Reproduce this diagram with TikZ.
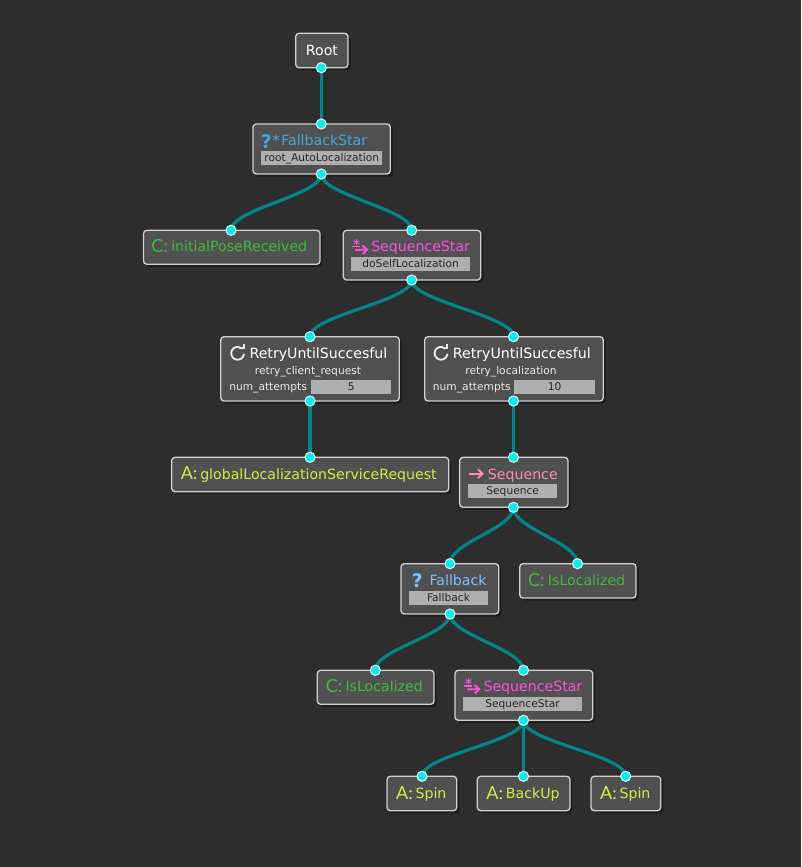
\documentclass[tikz,border=0pt]{standalone}
\usepackage{fontspec}
\setmainfont{DejaVu Sans}
\newfontfamily\iconfont{Lato}
\usetikzlibrary{fit,shadows,arrows.meta,calc}
\definecolor{bgc}{HTML}{2D2D2D}
\definecolor{boxc}{HTML}{505050}
\definecolor{edgec}{HTML}{008888}
\definecolor{fieldc}{HTML}{AFAFAF}
\definecolor{portc}{HTML}{00F0F0}
\definecolor{bluec}{HTML}{44A8E0}
\definecolor{lblue}{HTML}{77C4FF}
\definecolor{magc}{HTML}{FF50E0}
\definecolor{pinkc}{HTML}{FF8DB0}
\definecolor{greenc}{HTML}{3FBB3F}
\definecolor{yelc}{HTML}{CFF044}
\pgfdeclarelayer{backdrop}
\pgfdeclarelayer{edges}
\pgfsetlayers{backdrop,edges,main}
\def\u{0.75pt}
\tikzset{
  x=0.75pt,y=-0.75pt,
  box/.style={draw=white!82!black,line width=1pt,fill=boxc,rounded corners=2.5pt,inner sep=0pt,outer sep=0pt,
    drop shadow={shadow xshift=2pt,shadow yshift=-2pt,fill=black,opacity=0.35}},
  port/.style={circle,draw=white!92!black,fill=portc,line width=0.8pt,minimum size=7.6pt,inner sep=0pt,outer sep=0pt},
  edgeline/.style={draw=edgec,line width=2.4pt},
  curved/.style={edgeline,out=-90,in=90,distance=16pt},
  title/.style={anchor=base west,inner sep=0pt,font=\fontsize{10.6pt}{12pt}\selectfont},
  sub/.style={anchor=base,inner sep=0pt,text=white!92!black,font=\fontsize{8pt}{10pt}\selectfont},
  subl/.style={sub,anchor=base west},
  field/.style={fill=fieldc,text=black!85,inner sep=0pt,minimum height=14*\u,text height=7.5pt,text depth=2.3pt,font=\fontsize{8pt}{10pt}\selectfont},
  icon/.style={anchor=base west,inner sep=0pt,font=\iconfont\fontsize{13.5pt}{16pt}\selectfont},
  qmark/.style={anchor=base west,inner sep=0pt,font=\bfseries\fontsize{14pt}{16pt}\selectfont},
  star/.style={anchor=base,inner sep=0pt,font=\fontsize{12pt}{12pt}\selectfont},
  smallstar/.style={anchor=base,inner sep=0pt,font=\bfseries\fontsize{10pt}{12pt}\selectfont},
  arr/.style={line width=1.4pt,-{Straight Barb[length=3.5pt,width=6.5pt]}},
  stroke/.style={line width=1.4pt},
  iconline/.style={white!92!black,line width=1.4pt},
}
\newcommand{\bx}[5]{\node[box,fit={(#2,#3)(#4,#5)}] (#1) {};}
\newcommand{\retryicon}[2]{%
  \begin{scope}[shift={(#1,#2)},y=0.75pt]
    \draw[iconline] (-5:6.4) arc[start angle=-5,end angle=-310,radius=6.4*\u];
    \draw[iconline] (6.2,9.5) -- (6.2,5) -- (1.6,5);
  \end{scope}}
\begin{document}
\begin{tikzpicture}
\begin{pgfonlayer}{backdrop}
\fill[bgc] (0,0) rectangle (801,867);
\end{pgfonlayer}
\useasboundingbox (0,0) rectangle (801,867);

\bx{root}{295.7}{33.3}{348}{67.7}
\bx{fbs}{253}{124}{390.3}{174}
\bx{init}{143.5}{230.3}{320}{264.3}
\bx{sqs}{343.3}{230.3}{480.7}{280}
\bx{retrya}{220.7}{336.7}{399.3}{401}
\bx{retryb}{424.7}{336.7}{603.3}{401}
\bx{glob}{171.7}{457.3}{448.7}{491.7}
\bx{seq}{459.7}{457.3}{568}{507.3}
\bx{fb}{401}{563.7}{498.7}{614}
\bx{locr}{519.7}{563.7}{636}{598}
\bx{locl}{317.3}{670.3}{434}{704.3}
\bx{sqsb}{455}{670.3}{592.7}{720.3}
\bx{spina}{387}{776.3}{456.7}{810.7}
\bx{backup}{477.3}{776.3}{570}{810.7}
\bx{spinb}{591}{776.3}{660.7}{810.7}

% titles
\node[title,text=white] (troot) at (305.7,55.7) {Root};

\node[qmark,text=bluec] (ifbs) at (260.5,148) {?};
\node[star,text=bluec] (sfbs) at (276,146.5) {*};
\node[title,text=bluec] (tfbs) at (281,145) {FallbackStar};
\node[field,minimum width=120.7*\u] (ffbs) at (321.7,158) {root\_AutoLocalization};

\node[icon,text=greenc] (iinit) at (151.2,252) {C:};
\node[title,text=greenc] (tinit) at (171,251.7) {initialPoseReceived};

\node[smallstar,text=magc] (ssqs) at (356.5,249) {*};
\coordinate (usqsa) at (352,246.5);
\coordinate (usqsb) at (360,246.5);
\coordinate (asqsa) at (355,250);
\coordinate (asqsb) at (368.5,249.5);
\draw[stroke,magc] (usqsa) -- (usqsb);
\draw[arr,magc] (asqsa) -- (asqsb);
\node[title,text=magc] (tsqs) at (371,251.7) {SequenceStar};
\node[field,minimum width=118.7*\u] (fsqs) at (410.7,264) {doSelfLocalization};

\retryicon{237.6}{353.3}
\node[title,text=white] (tra) at (249.3,358.3) {RetryUntilSuccesful};
\node[sub] (sra) at (308,374) {retry\_client\_request};
\node[subl] (lra) at (229,390.5) {num\_attempts};
\node[field,minimum width=80.3*\u] (fra) at (351.2,387) {5};

\retryicon{441}{353.3}
\node[title,text=white] (trb) at (452.7,358.3) {RetryUntilSuccesful};
\node[sub] (srb) at (511,374) {retry\_localization};
\node[subl] (lrb) at (432.7,390.5) {num\_attempts};
\node[field,minimum width=80.7*\u] (frb) at (554.7,387) {10};

\node[icon,text=yelc] (iglob) at (180.5,479.3) {A:};
\node[title,text=yelc] (tglob) at (200,479) {globalLocalizationServiceRequest};

\coordinate (aseqa) at (469.3,473.7);
\coordinate (aseqb) at (484,473.7);
\draw[arr,pinkc] (aseqa) -- (aseqb);
\node[title,text=pinkc] (tseq) at (487.7,479) {Sequence};
\node[field,minimum width=89.3*\u] (fseq) at (512.7,491.2) {Sequence};

\node[qmark,text=lblue] (ifb) at (411.5,587.5) {?};
\node[title,text=lblue] (tfb) at (429.3,585) {Fallback};
\node[field,minimum width=79*\u] (ffb) at (448.5,598) {Fallback};

\node[icon,text=greenc] (ilocr) at (527.8,586.7) {C:};
\node[title,text=greenc] (tlocr) at (547.7,585) {IsLocalized};
\node[icon,text=greenc] (ilocl) at (325.5,692.7) {C:};
\node[title,text=greenc] (tlocl) at (345.3,691) {IsLocalized};

\node[smallstar,text=magc] (ssqsb) at (468.5,688.5) {*};
\coordinate (usqsc) at (464,686);
\coordinate (usqsd) at (472,686);
\coordinate (asqsc) at (467,689.5);
\coordinate (asqsd) at (480.5,689);
\draw[stroke,magc] (usqsc) -- (usqsd);
\draw[arr,magc] (asqsc) -- (asqsd);
\node[title,text=magc] (tsqsb) at (483.3,691) {SequenceStar};
\node[field,minimum width=119*\u] (fsqsb) at (522.5,704) {SequenceStar};

\node[icon,text=yelc] (ispa) at (395.8,799) {A:};
\node[title,text=yelc] (tspa) at (415.3,798.3) {Spin};
\node[icon,text=yelc] (ibu) at (486.2,799) {A:};
\node[title,text=yelc] (tbu) at (505.7,798.3) {BackUp};
\node[icon,text=yelc] (ispb) at (599.8,799) {A:};
\node[title,text=yelc] (tspb) at (619.3,798.3) {Spin};

% ports
\node[port] (p1) at (321.3,67.7) {};
\node[port] (p2) at (321.3,124) {};
\node[port] (p3) at (321.3,174) {};
\node[port] (p4) at (231,230.3) {};
\node[port] (p5) at (411.7,230.3) {};
\node[port] (p6) at (411.7,280) {};
\node[port] (p7) at (310,336.7) {};
\node[port] (p8) at (513.5,336.7) {};
\node[port] (p9) at (310,401) {};
\node[port] (p10) at (513.5,401) {};
\node[port] (p11) at (310,457.3) {};
\node[port] (p12) at (513.5,457.3) {};
\node[port] (p13) at (513.5,507.3) {};
\node[port] (p14) at (450,563.7) {};
\node[port] (p15) at (577.5,563.7) {};
\node[port] (p16) at (450,614) {};
\node[port] (p17) at (375.3,670.3) {};
\node[port] (p18) at (523.5,670.3) {};
\node[port] (p19) at (523.5,720.3) {};
\node[port] (p20) at (422,776.3) {};
\node[port] (p21) at (523.5,776.3) {};
\node[port] (p22) at (625.7,776.3) {};

\begin{pgfonlayer}{edges}
\draw[edgeline] (p1.center) -- (p2.center);
\draw[edgeline] (p3.center) to[curved] (p4.center);
\draw[edgeline] (p3.center) to[curved] (p5.center);
\draw[edgeline] (p6.center) to[curved] (p7.center);
\draw[edgeline] (p6.center) to[curved] (p8.center);
\draw[edgeline] (p9.center) -- (p11.center);
\draw[edgeline] (p10.center) -- (p12.center);
\draw[edgeline] (p13.center) to[curved] (p14.center);
\draw[edgeline] (p13.center) to[curved] (p15.center);
\draw[edgeline] (p16.center) to[curved] (p17.center);
\draw[edgeline] (p16.center) to[curved] (p18.center);
\draw[edgeline] (p19.center) to[curved] (p20.center);
\draw[edgeline] (p19.center) -- (p21.center);
\draw[edgeline] (p19.center) to[curved] (p22.center);
\end{pgfonlayer}
\end{tikzpicture}
\end{document}
